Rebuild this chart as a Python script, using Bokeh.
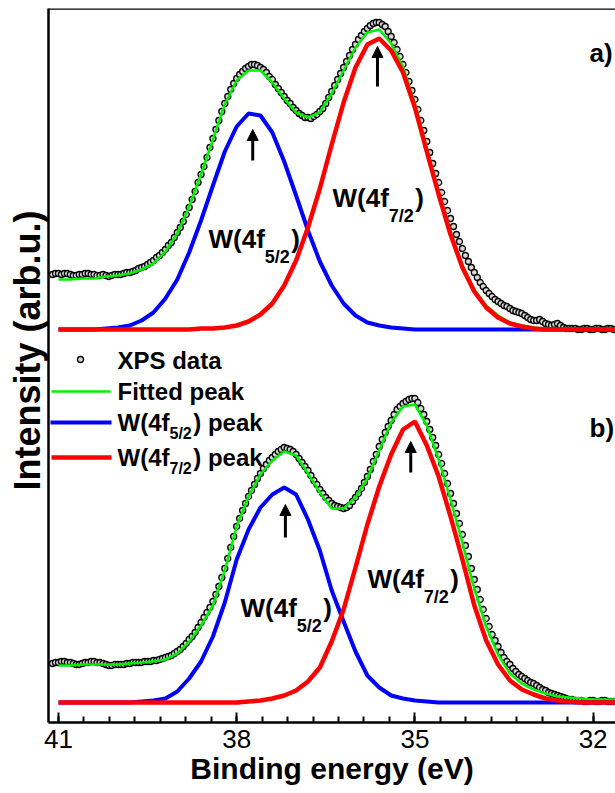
from bokeh.plotting import figure
from bokeh.models import Range1d, FixedTicker, Label, Arrow, NormalHead, Span, Title
from bokeh.embed import file_html
from bokeh.resources import INLINE

# ---------------- data ----------------
TICKS = [41, 38, 35, 32]

# energy grid of the fitted curves (eV)
E_FIT = [41.0, 40.8, 40.6, 40.4, 40.2, 40.0, 39.8, 39.6, 39.4, 39.2, 39.0, 38.8,
         38.6, 38.4, 38.2, 38.0, 37.8, 37.6, 37.4, 37.2, 37.0, 36.8, 36.6, 36.4,
         36.2, 36.0, 35.8, 35.6, 35.4, 35.2, 35.0, 34.8, 34.6, 34.4, 34.2, 34.0,
         33.8, 33.6, 33.4, 33.2, 33.0, 32.8, 32.6, 32.4, 32.2, 32.0, 31.8, 31.6]

# energy grid of the measured points (eV)
E_DATA = [41.10, 41.05, 41.00, 40.95, 40.90, 40.85, 40.80, 40.75, 40.70, 40.65,
          40.60, 40.55, 40.50, 40.45, 40.40, 40.35, 40.30, 40.25, 40.20, 40.15,
          40.10, 40.05, 40.00, 39.95, 39.90, 39.85, 39.80, 39.75, 39.70, 39.65,
          39.60, 39.55, 39.50, 39.45, 39.40, 39.35, 39.30, 39.25, 39.20, 39.15,
          39.10, 39.05, 39.00, 38.95, 38.90, 38.85, 38.80, 38.75, 38.70, 38.65,
          38.60, 38.55, 38.50, 38.45, 38.40, 38.35, 38.30, 38.25, 38.20, 38.15,
          38.10, 38.05, 38.00, 37.95, 37.90, 37.85, 37.80, 37.75, 37.70, 37.65,
          37.60, 37.55, 37.50, 37.45, 37.40, 37.35, 37.30, 37.25, 37.20, 37.15,
          37.10, 37.05, 37.00, 36.95, 36.90, 36.85, 36.80, 36.75, 36.70, 36.65,
          36.60, 36.55, 36.50, 36.45, 36.40, 36.35, 36.30, 36.25, 36.20, 36.15,
          36.10, 36.05, 36.00, 35.95, 35.90, 35.85, 35.80, 35.75, 35.70, 35.65,
          35.60, 35.55, 35.50, 35.45, 35.40, 35.35, 35.30, 35.25, 35.20, 35.15,
          35.10, 35.05, 35.00, 34.95, 34.90, 34.85, 34.80, 34.75, 34.70, 34.65,
          34.60, 34.55, 34.50, 34.45, 34.40, 34.35, 34.30, 34.25, 34.20, 34.15,
          34.10, 34.05, 34.00, 33.95, 33.90, 33.85, 33.80, 33.75, 33.70, 33.65,
          33.60, 33.55, 33.50, 33.45, 33.40, 33.35, 33.30, 33.25, 33.20, 33.15,
          33.10, 33.05, 33.00, 32.95, 32.90, 32.85, 32.80, 32.75, 32.70, 32.65,
          32.60, 32.55, 32.50, 32.45, 32.40, 32.35, 32.30, 32.25, 32.20, 32.15,
          32.10, 32.05, 32.00, 31.95, 31.90, 31.85, 31.80, 31.75, 31.70, 31.65]

# ---- spectrum a) (upper) ----
DATA_A = [55, 56, 56, 55, 56, 56, 55, 54, 54, 55,
          55, 56, 56, 55, 55, 54, 54, 55, 54, 53,
          54, 55, 55, 55, 56, 57, 57, 58, 59, 61,
          62, 63, 65, 67, 69, 72, 74, 77, 80, 84,
          87, 92, 97, 102, 108, 115, 122, 130, 138, 147,
          155, 163, 172, 182, 191, 200, 209, 218, 226, 233,
          240, 246, 251, 255, 258, 261, 263, 265, 265, 264,
          262, 260, 257, 253, 250, 245, 241, 237, 233, 229,
          226, 222, 219, 216, 214, 212, 212, 211, 213, 215,
          218, 221, 226, 232, 238, 244, 250, 256, 262, 268,
          274, 280, 285, 290, 294, 298, 301, 304, 306, 307,
          307, 305, 303, 298, 293, 287, 280, 273, 265, 257,
          248, 239, 230, 220, 209, 199, 188, 177, 166, 156,
          147, 137, 128, 119, 111, 103, 95, 88, 81, 74,
          68, 62, 57, 52, 47, 43, 39, 36, 33, 30,
          28, 26, 24, 23, 21, 19, 18, 17, 16, 14,
          12, 10, 9, 9, 10, 8, 6, 5, 4, 5,
          6, 4, 2, 1, 1, 1, 1, 0, 0, 1,
          1, 0, 0, 1, 1, 0, 0, 1, 1, 0]
FIT_A = [50, 50, 51, 51, 53, 54, 56, 60, 66, 78, 96, 123,
         155, 190, 225, 249, 259, 259, 247, 231, 217, 212, 217, 236,
         259, 282, 297, 300, 286, 262, 226, 181, 138, 98, 64, 40,
         24, 14, 7, 4, 2, 1, 1, 1, 1, 1, 1, 1]
W52_A = [0, 0, 0, 0, 1, 2, 4, 9, 17, 31, 50, 77,
         109, 144, 178, 203, 216, 214, 197, 168, 134, 99, 68, 44,
         26, 14, 7, 4, 2, 1, 0, 0, 0, 0, 0, 0,
         0, 0, 0, 0, 0, 0, 0, 0, 0, 0, 0, 0]
W72_A = [0, 0, 0, 0, 0, 0, 0, 0, 0, 0, 0, 0,
         1, 1, 2, 4, 8, 15, 26, 44, 69, 102, 141, 185,
         227, 262, 285, 291, 279, 257, 222, 178, 135, 95, 62, 38,
         22, 12, 6, 3, 1, 0, 0, 0, 0, 0, 0, 0]

# ---- spectrum b) (lower) ----
DATA_B = [39, 40, 40, 41, 41, 40, 40, 39, 38, 38,
          39, 40, 40, 41, 41, 40, 40, 39, 38, 37,
          37, 38, 38, 38, 38, 39, 39, 40, 40, 40,
          40, 41, 41, 41, 42, 42, 43, 44, 45, 46,
          47, 49, 51, 53, 56, 59, 63, 66, 70, 75,
          80, 85, 90, 95, 101, 108, 116, 125, 134, 144,
          155, 166, 176, 184, 192, 199, 206, 212, 218, 224,
          229, 234, 238, 242, 245, 248, 251, 253, 255, 254,
          253, 251, 248, 244, 240, 236, 232, 227, 222, 218,
          213, 209, 205, 202, 199, 197, 196, 195, 194, 195,
          197, 201, 205, 209, 214, 220, 226, 233, 241, 248,
          256, 263, 270, 276, 282, 288, 293, 296, 299, 301,
          303, 304, 304, 300, 294, 288, 281, 273, 265, 257,
          248, 239, 229, 219, 209, 199, 189, 179, 168, 157,
          146, 134, 123, 113, 103, 93, 84, 76, 68, 62,
          56, 50, 45, 41, 38, 34, 31, 28, 26, 24,
          22, 20, 19, 17, 15, 13, 12, 10, 9, 8,
          7, 6, 5, 4, 3, 3, 2, 2, 2, 1,
          1, 2, 2, 1, 1, 2, 2, 1, 1, 1]
FIT_B = [37, 37, 38, 38, 38, 38, 39, 40, 41, 43, 49, 61,
         77, 97, 132, 176, 206, 228, 242, 251, 247, 229, 210, 194,
         194, 205, 224, 252, 280, 296, 298, 277, 243, 203, 160, 114,
         76, 48, 29, 19, 13, 9, 6, 5, 4, 3, 3, 3]
W52_B = [0, 0, 0, 0, 0, 0, 0, 1, 2, 4, 11, 24,
         41, 66, 100, 143, 173, 195, 208, 215, 208, 183, 152, 112,
         81, 51, 27, 15, 7, 4, 2, 1, 0, 0, 0, 0,
         0, 0, 0, 0, 0, 0, 0, 0, 0, 0, 0, 0]
W72_B = [0, 0, 0, 0, 0, 0, 0, 0, 0, 0, 0, 0,
         0, 0, 0, 0, 1, 2, 4, 7, 12, 21, 35, 61,
         93, 135, 178, 216, 248, 273, 281, 257, 226, 186, 143, 97,
         62, 38, 22, 13, 8, 4, 2, 1, 0, 0, 0, 0]

# vertical offset of each spectrum (a.u.) and peak positions (eV)
OFFSET_A = 393
OFFSET_B = 20
PEAKS_A = [37.73, 35.63]
PEAKS_B = [37.18, 35.07]

# ---------------- figure ----------------
X_LEFT, X_RIGHT = 41.168, 31.623
Y_TOP = 714

FONT = "Liberation Sans"
GREEN = "#00f000"
BLUE = "#0000ff"
RED = "#ff0000"

p = figure(width=615, height=793, output_backend="svg", toolbar_location=None,
           x_range=Range1d(X_LEFT, X_RIGHT), y_range=Range1d(0, Y_TOP),
           min_border_left=48, min_border_right=0, min_border_top=8,
           min_border_bottom=71)
p.grid.visible = False
p.outline_line_color = None

xa = p.xaxis[0]
minor = [TICKS[0] - k * 3.0 / 7.0 for k in range(-2, 23)]
xa.ticker = FixedTicker(ticks=TICKS, minor_ticks=minor)
xa.axis_line_width = 2.5
xa.major_tick_in = 10
xa.major_tick_out = 0
xa.major_tick_line_width = 2
xa.minor_tick_in = 6
xa.minor_tick_out = 0
xa.minor_tick_line_width = 2
xa.major_label_text_font = FONT
xa.major_label_text_font_size = "26px"
xa.major_label_text_color = "black"
xa.major_label_standoff = 7
xa.axis_label = "Binding energy (eV)"
xa.axis_label_text_font = FONT
xa.axis_label_text_font_style = "bold"
xa.axis_label_text_font_size = "30px"
xa.axis_label_text_color = "black"
xa.axis_label_standoff = 1

ya = p.yaxis[0]
ya.ticker = FixedTicker(ticks=[])
ya.axis_line_width = 2.5
ya.major_tick_out = 0
ya.major_tick_in = 0
ya.minor_tick_out = 0
ya.minor_tick_in = 0

# y axis title (a side title lets it sit a little above the centre, as in the original)
YFS = 36
p.add_layout(Title(text="Intensity (arb.u.)", align="left", offset=722 - 490,
                   vertical_align="middle", standoff=0, text_font=FONT,
                   text_font_style="bold", text_font_size=f"{YFS}px",
                   text_color="black"), "left")

p.add_layout(Span(location=Y_TOP, dimension="width", line_color="black",
                  line_width=2.5))


def shift(values, off):
    return [v + off for v in values]


for data, fit, w52, w72, off in ((DATA_A, FIT_A, W52_A, W72_A, OFFSET_A),
                                 (DATA_B, FIT_B, W52_B, W72_B, OFFSET_B)):
    p.scatter(E_DATA, shift(data, off), size=6, fill_color="#d8d8d8",
              line_color="black", line_width=1.3)
    p.line(E_FIT, shift(fit, off), line_color=GREEN, line_width=2.6)
    p.line(E_FIT, shift(w52, off), line_color=BLUE, line_width=4)
    p.line(E_FIT, shift(w72, off), line_color=RED, line_width=4.5)


# ---------------- annotations ----------------
def px_x(px):
    return X_LEFT + (px - 48) * (X_RIGHT - X_LEFT) / (615 - 48)


def px_y(py):
    return 722 - py


MID = 0.3465  # distance baseline -> middle of the text box, in em

BOLD_W = {"W": 944, "(": 333, ")": 333, "4": 556, "f": 333, "5": 556, "/": 278,
          "2": 556, "7": 556, " ": 278, "p": 611, "e": 556, "a": 556, "k": 556}


def tw(s, fs):
    return sum(BOLD_W[c] for c in s) * fs / 1000.0


def lbl(x, y, text, fs, xo=0, yo=0):
    # (x, y) is the left end of the text baseline
    p.add_layout(Label(x=x, y=y, text=text, x_offset=xo,
                       y_offset=yo + MID * fs,
                       text_font=FONT, text_font_style="bold",
                       text_font_size=f"{fs}px", text_color="black",
                       text_baseline="middle", text_align="left"))


def sub_lbl(x, y, sub, tail, fs, sfs, drop):
    lbl(x, y, "W(4f", fs)
    w = tw("W(4f", fs)
    lbl(x, y, sub, sfs, xo=w, yo=-drop)
    lbl(x, y, tail, fs, xo=w + tw(sub, sfs) + 1.5)


# peak labels inside the plot
sub_lbl(px_x(208), px_y(248), "5/2", ")", 26, 18, 15)
sub_lbl(px_x(332), px_y(207), "7/2", ")", 26, 18, 15)
sub_lbl(px_x(240), px_y(617), "5/2", ")", 26, 18, 15)
sub_lbl(px_x(367), px_y(588), "7/2", ")", 26, 18, 15)

lbl(px_x(589), px_y(62), "a)", 26)
lbl(px_x(589), px_y(437), "b)", 26)

# arrows at the peak maxima
for xpk, y0, y1 in ((PEAKS_A[0], 160, 129), (PEAKS_A[1], 86, 46),
                    (PEAKS_B[0], 537, 504), (PEAKS_B[1], 472, 441)):
    p.add_layout(Arrow(end=NormalHead(size=11, fill_color="black",
                                      line_color="black", line_width=1),
                       x_start=xpk, y_start=px_y(y0), x_end=xpk, y_end=px_y(y1),
                       line_color="black", line_width=3))

# legend (drawn by hand so the subscripts can be shown)
p.scatter([px_x(80)], [px_y(359)], size=6, fill_color="#d8d8d8",
          line_color="black", line_width=1.3)
p.line([px_x(51), px_x(110)], [px_y(391)] * 2, line_color=GREEN, line_width=2.6)
p.line([px_x(50), px_x(111)], [px_y(422)] * 2, line_color=BLUE, line_width=4)
p.line([px_x(51), px_x(111)], [px_y(457)] * 2, line_color=RED, line_width=4.5)
lbl(px_x(117), px_y(368), "XPS data", 24)
lbl(px_x(117), px_y(399), "Fitted peak", 24)
sub_lbl(px_x(117), px_y(430), "5/2", ") peak", 24, 16, 9)
sub_lbl(px_x(117), px_y(465), "7/2", ") peak", 24, 16, 9)

open("out.html", "w").write(file_html(p, INLINE))
